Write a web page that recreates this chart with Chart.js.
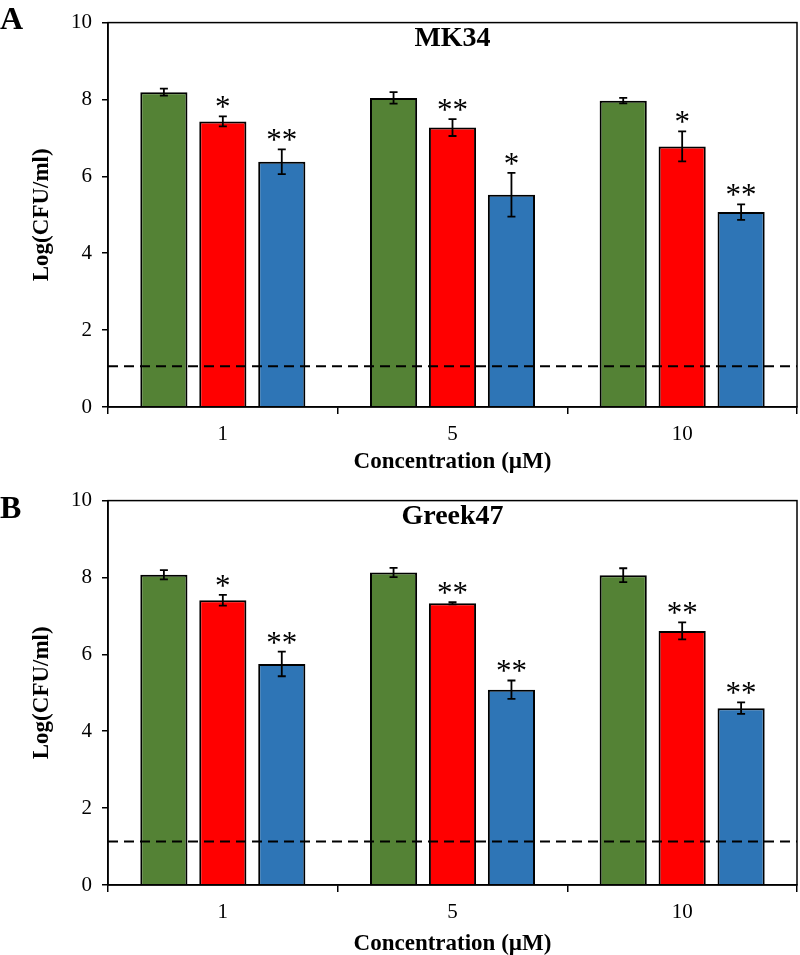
<!DOCTYPE html>
<html>
<head>
<meta charset="utf-8">
<script src="https://cdn.jsdelivr.net/npm/chart.js@4"></script>
<style>
  body { margin: 0; background: #fff; }
  #wrap { position: relative; width: 800px; height: 955px; overflow: hidden; }
  canvas { position: absolute; left: 0; }
  .letra { position: absolute; left: 0; font: bold 32px "Liberation Serif", serif; color: #000; }
</style>
</head>
<body>
<div id="wrap">
  <canvas id="grafico-a" width="800" height="476" style="top:0"></canvas>
  <canvas id="grafico-b" width="800" height="480" style="top:478px"></canvas>
  <div class="letra" style="top:0px">A</div>
  <div class="letra" style="top:489px">B</div>
</div>
<script>
const concentracoes = ['1', '5', '10'];

// painel A - MK34
const mk34Verde = [8.19, 8.04, 7.97];
const mk34VerdeErro = [0.09, 0.15, 0.07];
const mk34Vermelho = [7.43, 7.27, 6.78];
const mk34VermelhoErro = [0.13, 0.22, 0.39];
const mk34Azul = [6.38, 5.52, 5.07];
const mk34AzulErro = [0.32, 0.57, 0.20];
const mk34VermelhoSig = ['*', '**', '*'];
const mk34AzulSig = ['**', '*', '**'];
const mk34Limite = 1.06;

// painel B - Greek47
const greekVerde = [8.07, 8.13, 8.06];
const greekVerdeErro = [0.12, 0.12, 0.18];
const greekVermelho = [7.41, 7.33, 6.61];
const greekVermelhoErro = [0.14, 0.03, 0.22];
const greekAzul = [5.75, 5.08, 4.60];
const greekAzulErro = [0.32, 0.24, 0.15];
const greekVermelhoSig = ['*', '**', '**'];
const greekAzulSig = ['**', '**', '**'];
const greekLimite = 1.13;

const yTicks = [0, 2, 4, 6, 8, 10];

const serif = '"Liberation Serif", "Times New Roman", serif';

const extras = {
  id: 'extras',
  afterDatasetsDraw(chart, args, opts) {
    const { ctx, chartArea: a, scales: { y } } = chart;
    ctx.save();

    // linha tracejada (limite de detecção)
    ctx.strokeStyle = '#000';
    ctx.lineWidth = 2;
    ctx.setLineDash([10, 6]);
    const ly = y.getPixelForValue(opts.limite);
    ctx.beginPath();
    ctx.moveTo(a.left, ly);
    ctx.lineTo(a.right, ly);
    ctx.stroke();
    ctx.setLineDash([]);

    // barras de erro + asteriscos
    chart.data.datasets.forEach((ds, i) => {
      const meta = chart.getDatasetMeta(i);
      meta.data.forEach((bar, j) => {
        const v = ds.data[j], e = ds.erros[j];
        const yTop = y.getPixelForValue(v + e);
        const yBot = y.getPixelForValue(v - e);
        ctx.lineWidth = 1.8;
        ctx.beginPath();
        ctx.moveTo(bar.x, yTop); ctx.lineTo(bar.x, yBot);
        ctx.moveTo(bar.x - 4, yTop); ctx.lineTo(bar.x + 4, yTop);
        ctx.moveTo(bar.x - 4, yBot); ctx.lineTo(bar.x + 4, yBot);
        ctx.stroke();
        if (ds.sig && ds.sig[j]) {
          ctx.fillStyle = '#000';
          ctx.font = '31px ' + serif;
          ctx.textAlign = 'center';
          ctx.textBaseline = 'alphabetic';
          ctx.fillText(ds.sig[j], bar.x, yTop + 1);
        }
      });
    });

    // moldura
    ctx.lineWidth = 1.5;
    ctx.strokeRect(a.left, a.top, a.right - a.left, a.bottom - a.top);

    // título do painel
    ctx.fillStyle = '#000';
    ctx.font = 'bold 28px ' + serif;
    ctx.textAlign = 'center';
    ctx.textBaseline = 'middle';
    ctx.fillText(opts.titulo, (a.left + a.right) / 2, a.top + 16);
    ctx.restore();
  }
};

function criarGrafico(id, titulo, verde, verdeErro, vermelho, vermelhoErro, azul, azulErro, sigVermelho, sigAzul, limite, topo, alturaX) {
  const serie = (data, erros, cor, sig) => ({
    data, erros, sig,
    backgroundColor: cor,
    borderColor: '#000',
    borderWidth: 2,
    categoryPercentage: 0.77,
    barPercentage: 0.8
  });

  new Chart(document.getElementById(id), {
    type: 'bar',
    data: {
      labels: concentracoes,
      datasets: [
        serie(verde, verdeErro, '#548235', null),
        serie(vermelho, vermelhoErro, '#ff0000', sigVermelho),
        serie(azul, azulErro, '#2e75b6', sigAzul)
      ]
    },
    options: {
      responsive: false,
      animation: false,
      layout: { padding: { top: topo, right: 3, left: 0, bottom: 0 } },
      plugins: {
        legend: { display: false },
        tooltip: { enabled: false },
        extras: { titulo, limite }
      },
      scales: {
        x: {
          grid: { drawOnChartArea: false, color: '#000', lineWidth: 1.5, tickLength: 7 },
          border: { color: '#000', width: 1.5 },
          ticks: { color: '#000', font: { family: serif, size: 21 }, padding: 8 },
          title: {
            display: true,
            text: 'Concentration (µM)',
            color: '#000',
            font: { family: serif, size: 23, weight: 'bold' },
            padding: { top: 0, bottom: 0 }
          },
          afterFit: s => { s.height = alturaX; }
        },
        y: {
          min: 0,
          max: 10,
          afterBuildTicks: s => { s.ticks = yTicks.map(value => ({ value })); },
          grid: { drawOnChartArea: false, color: '#000', lineWidth: 1.5, tickLength: 6 },
          border: { color: '#000', width: 1.5 },
          ticks: { color: '#000', font: { family: serif, size: 21 }, padding: 10 },
          title: {
            display: true,
            text: 'Log(CFU/ml)',
            color: '#000',
            font: { family: serif, size: 23, weight: 'bold' },
            padding: { top: 28, bottom: 0 }
          },
          afterFit: s => { s.width = 108; }
        }
      }
    },
    plugins: [extras]
  });
}

criarGrafico('grafico-a', 'MK34', mk34Verde, mk34VerdeErro, mk34Vermelho, mk34VermelhoErro,
  mk34Azul, mk34AzulErro, mk34VermelhoSig, mk34AzulSig, mk34Limite, 13, 69);
criarGrafico('grafico-b', 'Greek47', greekVerde, greekVerdeErro, greekVermelho, greekVermelhoErro,
  greekAzul, greekAzulErro, greekVermelhoSig, greekAzulSig, greekLimite, 15, 73);
</script>
</body>
</html>
